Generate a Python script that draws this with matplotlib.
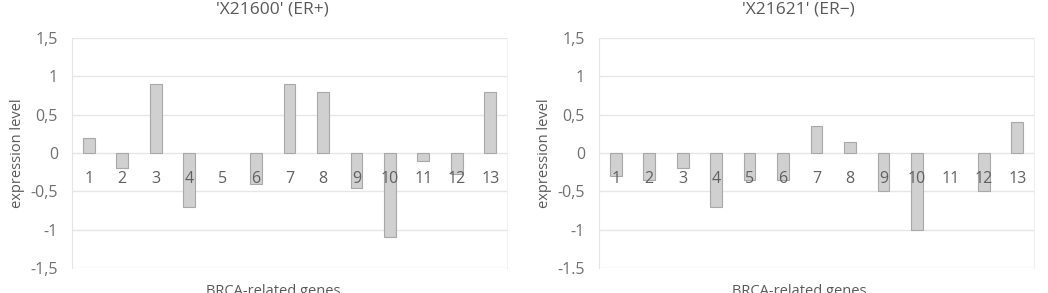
import matplotlib
matplotlib.use("Agg")
import matplotlib.pyplot as plt
from matplotlib.ticker import FixedLocator

genes = [str(i) for i in range(1, 14)]
er_pos = [0.2, -0.2, 0.9, -0.7, 0.0, -0.4, 0.9, 0.8, -0.45, -1.1, -0.1, -0.28, 0.8]
er_neg = [-0.3, -0.35, -0.2, -0.7, -0.35, -0.35, 0.35, 0.15, -0.5, -1.0, 0.0, -0.5, 0.4]
titles = ["'X21600' (ER+)", "'X21621' (ER\u2212)"]
ytick_vals = [-1.5, -1, -0.5, 0, 0.5, 1, 1.5]
ytick_labels_left = ["-1,5", "-1", "-0,5", "0", "0,5", "1", "1,5"]
ytick_labels_right = ["-1.5", "-1", "-0,5", "0", "0,5", "1", "1,5"]
xlabel = "BRCA-related genes"
ylabel = "expression level"

plt.rcParams['font.family'] = ['Open Sans', 'DejaVu Sans']
txt = '#595959'
W, H = 1048, 293
fig = plt.figure(figsize=(W / 100, H / 100), dpi=100)

panels = [
    (72, 507, er_pos, titles[0], ytick_labels_left, 272, 18),
    (599, 1034, er_neg, titles[1], ytick_labels_right, 798, 544),
]
top_px, bot_px = 38, 268
for x0, x1, vals, title, ylabs, tcx, ylx in panels:
    ax = fig.add_axes([x0 / W, 1 - bot_px / H, (x1 - x0) / W, (bot_px - top_px) / H])
    xs = list(range(len(genes)))
    edges = ['#a8a8a8' if v != 0 else 'none' for v in vals]
    ax.bar(xs, vals, width=0.35, color='#d0d0d0', edgecolor=edges, linewidth=0.8, zorder=2)
    ax.set_xlim(-0.5, len(genes) - 0.5)
    ax.set_ylim(-1.5, 1.5)
    ax.yaxis.set_major_locator(FixedLocator(ytick_vals))
    ax.set_yticklabels(ylabs)
    ax.set_xticks(xs)
    ax.set_xticklabels(genes)
    ax.spines['bottom'].set_position(('data', 0))
    ax.spines['bottom'].set_visible(False)
    ax.spines['top'].set_visible(False)
    ax.spines['right'].set_color('#f0f0f0')
    ax.spines['left'].set_color('#e4e4e4')
    ax.tick_params(axis='both', length=0, colors=txt, labelsize=11.5)
    ax.tick_params(axis='x', pad=13, colors='#606060')
    ax.tick_params(axis='y', pad=10, colors='#707070')
    ax.set_axisbelow(True)
    ax.grid(axis='y', color='#e6e6e6', linewidth=1.0)
    ax.xaxis.set_zorder(5)
    fig.text(tcx / W, 1 - 10 / H, title, ha='center', va='center', fontsize=12.5, color=txt)
    fig.text(tcx / W + 1 / W, 1 - 284 / H, xlabel, ha='center', va='top', fontsize=10.5, color=txt)
    fig.text(ylx / W, 1 - 153 / H, ylabel, ha='center', va='center', rotation=90, fontsize=10.5, color=txt)

fig.savefig('out.png', dpi=100, facecolor='white')
